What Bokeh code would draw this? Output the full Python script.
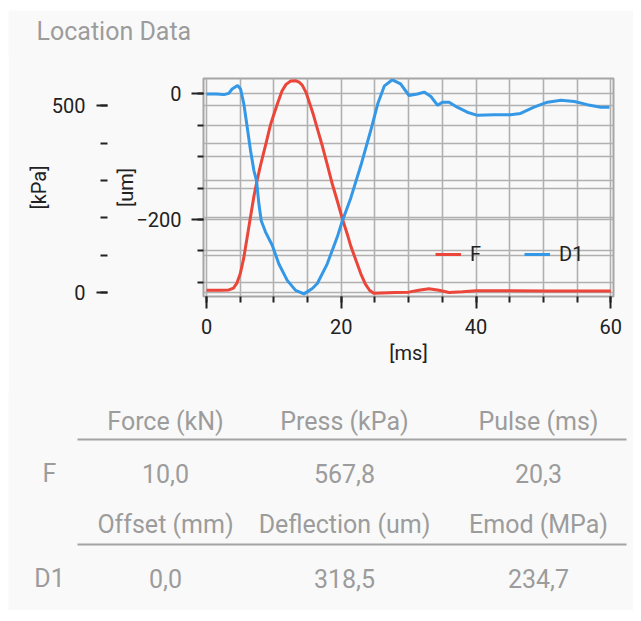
from bokeh.plotting import figure
from bokeh.models import Range1d, LinearAxis, FixedTicker, Grid, ColumnDataSource
from bokeh.core.properties import value
from bokeh.embed import file_html
from bokeh.resources import INLINE

# ---------------- data ----------------
f_time = [0, 2, 3.3, 4.0, 4.5, 5.0, 5.5, 6.0, 6.5, 7.0, 7.5, 8.0, 8.8, 9.5, 10.0,
          10.6, 11.2, 11.8, 12.5, 13.2, 13.8, 14.2, 14.8, 15.2, 15.8, 16.4, 17.2,
          17.9, 18.6, 19.4, 20.2, 21.0, 21.4, 22.2, 22.9, 23.6, 24.2, 24.8, 26, 28,
          30, 31.5, 33, 34.5, 36, 38, 40, 45, 50, 55, 60]
f_kpa = [6, 6, 7, 12, 25, 50, 90, 145, 200, 255, 300, 340, 398, 450, 478,
         510, 540, 558, 567, 567.8, 563, 556, 535, 513, 480, 442, 392,
         344, 295, 246, 195, 150, 125, 85, 50, 22, 6, -2, -1, 0,
         1, 6, 10, 6, 0, 2, 5, 5, 4, 4, 4]

d1_time = [0, 1.5, 2.6, 3.3, 3.8, 4.6, 5.05, 5.54, 6.04, 6.53, 7.03, 7.42, 7.77,
           8.12, 8.76, 9.75, 10.74, 11.98, 13.22, 14.46, 15.7, 16.44, 17.9, 19.4,
           20.1, 21.4, 22.9, 24.4, 25.4, 26.4, 27.58, 28.8, 30.05, 31.3, 32.3,
           33.3, 34.3, 35.0, 36.0, 37.2, 38.7, 40.2, 42.7, 45.1, 46.6, 48.6, 50.6,
           52.6, 54.6, 56.5, 58.5, 59.8]
d1_um = [0, 0, -1, 1, 8, 13.5, 8, -16, -53, -90, -122, -138, -175,
         -202, -220, -241, -271, -297, -313, -318.5, -310, -302, -271, -228,
         -204, -166, -114, -57, -16, 13, 22.6, 16, -2.4, 0, 3,
         -4, -18, -13, -13, -21, -29, -34, -33, -33, -31, -21, -13,
         -10, -12, -17, -21, -21]

x_major = [0, 20, 40, 60]
x_minor = [0, 5, 10, 15, 20, 25, 30, 35, 40, 45, 50, 55, 60]
um_major = [0, -200]
um_minor = [0, -50, -100, -150, -200, -250, -300]
kpa_major = [0, 500]
kpa_minor = [0, 100, 200, 300, 400, 500]

title_text = "Location Data"
row_labels = ["F", "D1"]
headers_f = ["Force (kN)", "Press (kPa)", "Pulse (ms)"]
values_f = ["10,0", "567,8", "20,3"]
headers_d1 = ["Offset (mm)", "Deflection (um)", "Emod (MPa)"]
values_d1 = ["0,0", "318,5", "234,7"]

# ---------------- style ----------------
BG = "#f9f9f9"
RED = "#ea463a"
BLUE = "#3598e6"
GRID = "#b0b0b0"
INK = "#222222"
GREY_TXT = "#9c9c9c"
FONT = "Roboto"
W = 625


def blank(height, margin):
    f = figure(width=W, height=height, x_range=Range1d(0, W), y_range=Range1d(height, 0),
               output_backend="svg", toolbar_location=None, min_border=0,
               x_axis_type=None, y_axis_type=None, margin=margin,
               background_fill_color=BG, border_fill_color=BG, outline_line_color=None)
    f.grid.visible = False
    return f


# ---------------- header ----------------
h = blank(46, (10, 0, 0, 8))
h.text(x=[28], y=[21], text=[title_text], text_font=value(FONT), text_font_size="25px",
       text_color=GREY_TXT, text_align="left", text_baseline="alphabetic")

# ---------------- chart ----------------
p = figure(width=W, height=338,
           x_range=Range1d(-0.45, 60.4), y_range=Range1d(-322.7, 24.7),
           output_backend="svg", toolbar_location=None,
           min_border_left=195, min_border_right=20, min_border_top=23,
           min_border_bottom=97, margin=(-1, 0, 0, 8),
           background_fill_color=BG, border_fill_color=BG)
p.extra_y_ranges = {"kpa": Range1d(-10.7, 573.7)}

p.outline_line_color = "#a6a6a6"
p.outline_line_width = 2

p.xgrid.ticker = FixedTicker(ticks=x_minor)
p.ygrid.ticker = FixedTicker(ticks=um_minor)
for g in (p.xgrid[0], p.ygrid[0]):
    g.grid_line_color = GRID
    g.grid_line_width = 1.6
kgrid = Grid(dimension=1, ticker=FixedTicker(ticks=kpa_minor), y_range_name="kpa",
             grid_line_color=GRID, grid_line_width=1.6)
p.add_layout(kgrid)

xax = p.xaxis[0]
xax.ticker = FixedTicker(ticks=x_major, minor_ticks=x_minor)
xax.axis_label = "[ms]"
uax = p.yaxis[0]
uax.ticker = FixedTicker(ticks=um_major, minor_ticks=um_minor)
uax.axis_label = "[um]"
kax = LinearAxis(y_range_name="kpa",
                 ticker=FixedTicker(ticks=kpa_major, minor_ticks=kpa_minor),
                 axis_label="[kPa]")
p.add_layout(kax, "left")

for ax in (xax, uax, kax):
    ax.axis_line_color = None
    ax.major_tick_line_color = INK
    ax.minor_tick_line_color = INK
    ax.major_tick_line_width = 2
    ax.minor_tick_line_width = 2
    ax.major_tick_in = 0
    ax.minor_tick_in = 0
    ax.major_tick_out = 12
    ax.minor_tick_out = 6
    ax.major_label_text_font = FONT
    ax.major_label_text_font_size = "20px"
    ax.major_label_text_color = INK
    ax.major_label_standoff = 10
    ax.axis_label_text_font = FONT
    ax.axis_label_text_font_size = "20px"
    ax.axis_label_text_font_style = "normal"
    ax.axis_label_text_color = INK
    ax.axis_label_standoff = 4
uax.axis_label_standoff = -5
kax.major_tick_in = -4
kax.minor_tick_in = -4
kax.major_tick_out = 15
kax.minor_tick_out = 11
kax.major_label_standoff = 11
kax.axis_label_standoff = -2

p.line(f_time, f_kpa, y_range_name="kpa", line_color=RED, line_width=3,
       legend_label="F")
p.line(d1_time, d1_um, line_color=BLUE, line_width=3, legend_label="D1")

leg = p.legend[0]
leg.orientation = "horizontal"
leg.location = (232, 30)
leg.background_fill_alpha = 0
leg.border_line_color = None
leg.padding = 0
leg.margin = 0
leg.spacing = 34
leg.glyph_width = 26
leg.label_standoff = 9
leg.label_text_font = FONT
leg.label_text_font_size = "20px"
leg.label_text_color = INK

# ---------------- table ----------------
t = blank(218, (-1, 0, 0, 8))

col_x = [157, 336, 530]
label_x = 41
base_y = [29, 81, 132, 186]
rule_y = [47, 152]
rule_x0, rule_x1 = 69, 618

cells = dict(x=[], y=[], txt=[])
for row, (hdrs, vals) in enumerate([(headers_f, values_f), (headers_d1, values_d1)]):
    for cx, hd, v in zip(col_x, hdrs, vals):
        cells["x"] += [cx, cx]
        cells["y"] += [base_y[2 * row], base_y[2 * row + 1]]
        cells["txt"] += [hd, v]
    cells["x"].append(label_x)
    cells["y"].append(base_y[2 * row + 1])
    cells["txt"].append(row_labels[row])

t.text(x="x", y="y", text="txt", source=ColumnDataSource(cells),
       text_font=value(FONT), text_font_size="25px", text_color=GREY_TXT,
       text_align="center", text_baseline="alphabetic")
t.segment(x0=[rule_x0] * 2, y0=rule_y, x1=[rule_x1] * 2, y1=rule_y,
          line_color="#a3a3a3", line_width=2)

open("out.html", "w").write(file_html([h, p, t], INLINE))
